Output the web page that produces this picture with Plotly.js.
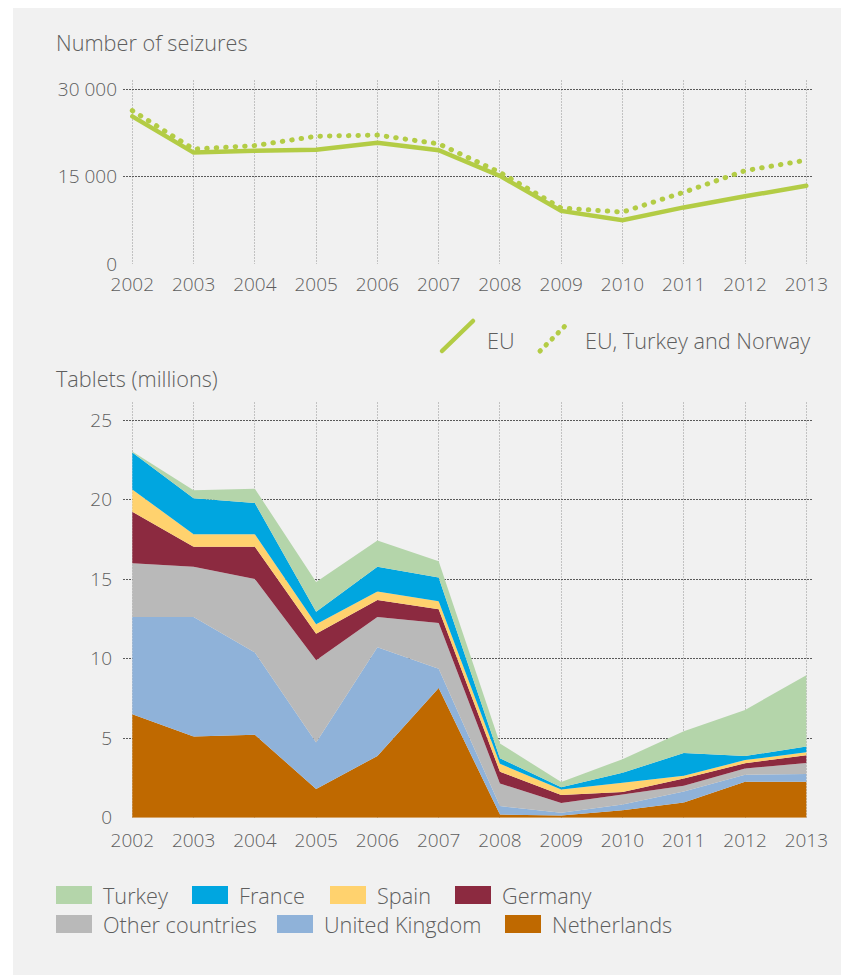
<!DOCTYPE html>
<html>
<head>
<meta charset="utf-8">
<script src="https://cdn.plot.ly/plotly-3.0.1.min.js"></script>
<style>
  html, body { margin: 0; padding: 0; background: #ffffff; }
  #chart { position: absolute; left: 13px; top: 8px; width: 828px; height: 967px; }
  path.js-line, .shapelayer path { stroke-linecap: round; }
</style>
</head>
<body>
<div id="chart"></div>
<script>
// ---------- DATA ----------
const years = [2002, 2003, 2004, 2005, 2006, 2007, 2008, 2009, 2010, 2011, 2012, 2013];
const yearLabels = ['2002', '2003', '2004', '2005', '2006', '2007', '2008', '2009', '2010', '2011', '2012', '2013'];

// Number of seizures
const seizuresEU = [25300, 19100, 19400, 19600, 20800, 19500, 15100, 9100, 7500, 9700, 11600, 13400];
const seizuresEUTurkeyNorway = [26300, 19700, 20300, 21900, 22100, 20600, 15700, 9600, 8900, 12300, 16000, 17800];
const seizureTickVals = [0, 15000, 30000];
const seizureTickText = ['0', '15 000', '30 000'];

// Tablets (millions), stacked from bottom to top
const netherlands = [6.51, 5.10, 5.21, 1.81, 3.88, 8.15, 0.20, 0.14, 0.47, 0.96, 2.26, 2.26];
const unitedKingdom = [6.11, 7.52, 5.18, 2.91, 6.83, 1.22, 0.53, 0.17, 0.36, 0.69, 0.44, 0.48];
const otherCountries = [3.37, 3.16, 4.62, 5.18, 1.91, 2.87, 1.42, 0.62, 0.63, 0.36, 0.39, 0.70];
const germany = [3.24, 1.25, 2.02, 1.66, 1.07, 0.87, 0.74, 0.49, 0.15, 0.45, 0.34, 0.48];
const spain = [1.40, 0.79, 0.79, 0.60, 0.53, 0.49, 0.50, 0.35, 0.59, 0.18, 0.19, 0.19];
const france = [2.33, 2.26, 1.96, 0.78, 1.56, 1.50, 0.35, 0.14, 0.63, 1.42, 0.26, 0.36];
const turkey = [0.06, 0.51, 0.90, 1.88, 1.64, 1.02, 0.93, 0.33, 0.85, 1.37, 2.89, 4.49];
const tabletTickVals = [0, 5, 10, 15, 20, 25];
const tabletTickText = ['0', '5', '10', '15', '20', '25'];

const seriesNames = ['Netherlands', 'United Kingdom', 'Other countries', 'Germany', 'Spain', 'France', 'Turkey'];
const seriesValues = [netherlands, unitedKingdom, otherCountries, germany, spain, france, turkey];

// ---------- STYLE ----------
const seriesColors = {
  'Netherlands': '#bf6900',
  'United Kingdom': '#8fb2d9',
  'Other countries': '#b9b9b9',
  'Germany': '#8c2a40',
  'Spain': '#ffd26e',
  'France': '#00a6e0',
  'Turkey': '#b4d5aa'
};
const lineGreen = '#b3cc45';
const textColor = '#5e5e5e';
const FONT = 'Open Sans';
const WEIGHT = 300;
const TICK_SIZE = 19;
const TEXT_SIZE = 21.7;

// page -> paper coordinate helpers (div is 828x967 at page offset 13,8)
const W = 828, H = 967, OX = 13, OY = 8;
const px = x => (x - OX) / W;
const py = y => 1 - (y - OY) / H;

const xRange = [2001.848, 2013.109];
const xDomain = [px(123), px(813)];
const txtFont = { family: FONT, size: TEXT_SIZE, color: textColor, weight: WEIGHT };

// ---------- TRACES ----------
const traces = [];
traces.push({
  x: years, y: seizuresEU, type: 'scatter', mode: 'lines', name: 'EU',
  xaxis: 'x', yaxis: 'y',
  line: { color: lineGreen, width: 4.5 }, hoverinfo: 'skip'
});
traces.push({
  x: years, y: seizuresEUTurkeyNorway, type: 'scatter', mode: 'lines', name: 'EU, Turkey and Norway',
  xaxis: 'x', yaxis: 'y',
  line: { color: lineGreen, width: 5, dash: '0.5px,9px' }, hoverinfo: 'skip'
});
seriesNames.forEach((name, i) => {
  traces.push({
    x: years, y: seriesValues[i], type: 'scatter', mode: 'lines', name: name,
    xaxis: 'x2', yaxis: 'y2', stackgroup: 'tablets',
    line: { width: 0, color: seriesColors[name] },
    fillcolor: seriesColors[name], hoverinfo: 'skip'
  });
});

// ---------- LEGENDS (custom, drawn as shapes + annotations) ----------
const shapes = [];
const annotations = [];

// top legend
shapes.push({ type: 'line', xref: 'paper', yref: 'paper',
  x0: px(442), y0: py(351), x1: px(473), y1: py(321),
  line: { color: lineGreen, width: 4.5 } });
shapes.push({ type: 'line', xref: 'paper', yref: 'paper',
  x0: px(540), y0: py(351), x1: px(570), y1: py(321),
  line: { color: lineGreen, width: 5, dash: '0.5px,8px' } });
annotations.push({ text: 'EU', xref: 'paper', yref: 'paper', x: px(485), y: py(340),
  xanchor: 'left', yanchor: 'middle', showarrow: false, font: txtFont });
annotations.push({ text: 'EU, Turkey and Norway', xref: 'paper', yref: 'paper', x: px(583), y: py(340),
  xanchor: 'left', yanchor: 'middle', showarrow: false, font: txtFont });

// bottom legend
const legendItems = [
  { name: 'Turkey', x: 56, y: 895 },
  { name: 'France', x: 192, y: 895 },
  { name: 'Spain', x: 330, y: 895 },
  { name: 'Germany', x: 455, y: 895 },
  { name: 'Other countries', x: 56, y: 924 },
  { name: 'United Kingdom', x: 277, y: 924 },
  { name: 'Netherlands', x: 505, y: 924 }
];
legendItems.forEach(it => {
  shapes.push({ type: 'rect', xref: 'paper', yref: 'paper',
    x0: px(it.x), x1: px(it.x + 36), y0: py(it.y - 9), y1: py(it.y + 9),
    fillcolor: seriesColors[it.name], line: { width: 0 } });
  annotations.push({ text: it.name, xref: 'paper', yref: 'paper', x: px(it.x + 45), y: py(it.y),
    xanchor: 'left', yanchor: 'middle', showarrow: false, font: txtFont });
});

// chart titles
annotations.push({ text: 'Number of seizures', xref: 'paper', yref: 'paper', x: px(54), y: py(42),
  xanchor: 'left', yanchor: 'middle', showarrow: false, font: txtFont });
annotations.push({ text: 'Tablets (millions)', xref: 'paper', yref: 'paper', x: px(54), y: py(378),
  xanchor: 'left', yanchor: 'middle', showarrow: false, font: txtFont });

// ---------- LAYOUT ----------
const tickFont = { family: FONT, size: TICK_SIZE, color: textColor, weight: WEIGHT };
const xCommon = {
  range: xRange, domain: xDomain, tickvals: years, ticktext: yearLabels,
  showgrid: true, gridcolor: '#c2c2c2', griddash: '2px,1px', gridwidth: 1,
  zeroline: false, showline: false, ticks: '', fixedrange: true,
  tickfont: tickFont
};
const yCommon = {
  showgrid: true, gridcolor: '#5a5a5a', griddash: '2px,1px', gridwidth: 1,
  zeroline: false, showline: false, ticks: '', fixedrange: true,
  tickfont: tickFont
};

const layout = {
  width: W, height: H,
  margin: { l: 0, r: 0, t: 0, b: 0 },
  paper_bgcolor: '#f1f1f1', plot_bgcolor: 'rgba(0,0,0,0)',
  font: { family: FONT, size: TICK_SIZE, color: textColor, weight: WEIGHT },
  showlegend: false, hovermode: false,
  xaxis: Object.assign({}, xCommon, { anchor: 'y', ticklabelstandoff: 7 }),
  yaxis: Object.assign({}, yCommon, {
    anchor: 'x', domain: [py(264), py(80)], range: [0, 30000 * 184 / 175],
    tickvals: seizureTickVals, ticktext: seizureTickText, ticklabelstandoff: 5 }),
  xaxis2: Object.assign({}, xCommon, { anchor: 'y2', ticklabelstandoff: 9 }),
  yaxis2: Object.assign({}, yCommon, {
    anchor: 'x2', domain: [py(817.7), py(401.7)], range: [0, 25 * 416 / 397.7],
    tickvals: tabletTickVals, ticktext: tabletTickText, ticklabelstandoff: 10 }),
  shapes: shapes,
  annotations: annotations
};

Plotly.newPlot('chart', traces, layout, { displayModeBar: false, staticPlot: true });
</script>
</body>
</html>
